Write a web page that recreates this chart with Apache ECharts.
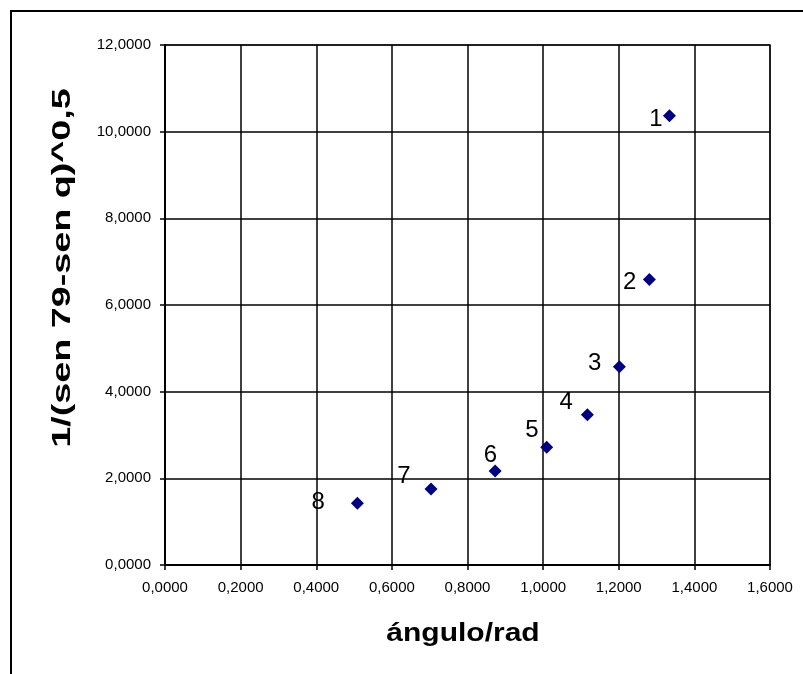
<!DOCTYPE html>
<html>
<head>
<meta charset="utf-8">
<script src="https://cdn.jsdelivr.net/npm/echarts@6/dist/echarts.min.js"></script>
<style>
html,body{margin:0;padding:0;background:#fff;}
#chart{width:803px;height:674px;}
</style>
</head>
<body>
<div id="chart"></div>
<script>
// Data
const pointLabels = ['1', '2', '3', '4', '5', '6', '7', '8'];
const xValues = [1.334, 1.281, 1.2016, 1.117, 1.0094, 0.873, 0.7035, 0.5087];
const yValues = [10.37, 6.59, 4.577, 3.469, 2.715, 2.169, 1.754, 1.423];
const xTitle = 'ángulo/rad';
const yTitle = '1/(sen 79-sen q)^0,5';

// Style: manual label offsets (px) relative to each marker
const labelOffsets = [[-13.5, 3.5], [-19.6, 3.2], [-24.8, -3.7], [-21.1, -12.5],
                      [-14.7, -16.5], [-4.8, -15.2], [-27.2, -12.3], [-39.3, -0.6]];

const FONT = '"Liberation Sans", Arial, sans-serif';
const fmt = v => v.toFixed(4).replace('.', ',');

const data = xValues.map((x, i) => ({
  value: [x, yValues[i]],
  name: pointLabels[i],
  label: { offset: labelOffsets[i] }
}));

const chart = echarts.init(document.getElementById('chart'), null, { renderer: 'canvas' });
chart.setOption({
  animation: false,
  backgroundColor: '#fff',
  graphic: [{
    type: 'rect',
    shape: { x: 11, y: 11, width: 900, height: 800 },
    style: { fill: 'none', stroke: '#000', lineWidth: 2 },
    silent: true
  }, {
    type: 'text',
    x: 63, y: 268, rotation: Math.PI / 2, scaleX: 1.45, scaleY: 1,
    style: {
      text: yTitle, fontFamily: FONT, fontSize: 26, fontWeight: 'bold', fill: '#000',
      align: 'center', verticalAlign: 'middle'
    },
    silent: true
  }, {
    type: 'text',
    x: 463, y: 634, scaleX: 1.2, scaleY: 1,
    style: {
      text: xTitle, fontFamily: FONT, fontSize: 25, fontWeight: 'bold', fill: '#000',
      align: 'center', verticalAlign: 'middle'
    },
    silent: true
  }],
  grid: {
    left: 165, top: 45, right: 33, bottom: 109,
    show: true, borderColor: '#808080', borderWidth: 2, backgroundColor: 'transparent'
  },
  xAxis: {
    type: 'value', min: 0, max: 1.6, interval: 0.2,
    axisLine: { show: true, lineStyle: { color: '#000', width: 2 } },
    axisTick: { show: true, length: 5, lineStyle: { color: '#000', width: 1.5 } },
    axisLabel: { fontFamily: FONT, fontSize: 15, color: '#000', margin: 15, formatter: fmt },
    splitLine: { show: true, lineStyle: { color: '#000', width: 1.5 } }
  },
  yAxis: {
    type: 'value', min: 0, max: 12, interval: 2,
    axisLine: { show: true, lineStyle: { color: '#000', width: 2 } },
    axisTick: { show: true, length: 5, lineStyle: { color: '#000', width: 1.5 } },
    axisLabel: { fontFamily: FONT, fontSize: 15, color: '#000', margin: 14, formatter: fmt },
    splitLine: { show: true, lineStyle: { color: '#000', width: 1.5 } }
  },
  series: [{
    type: 'scatter',
    symbol: 'diamond',
    symbolSize: 13,
    itemStyle: { color: '#000080', opacity: 1 },
    data: data,
    label: {
      show: true, position: 'inside', formatter: '{b}',
      fontFamily: FONT, fontSize: 24, color: '#000', opacity: 1,
      textBorderWidth: 0,
      align: 'center', verticalAlign: 'middle'
    },
    z: 5
  }]
});
</script>
</body>
</html>
